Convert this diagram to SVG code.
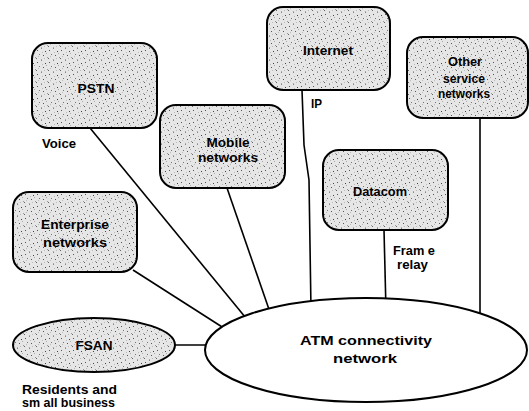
<svg xmlns="http://www.w3.org/2000/svg" width="529" height="411" viewBox="0 0 529 411">
  <defs>
    <!-- speckled grey fill for network clouds -->
    <pattern id="speckle" width="12" height="12" patternUnits="userSpaceOnUse">
      <rect width="12" height="12" fill="#e6e6e6"/>
      <rect x="1" y="2" width="1" height="1" fill="#555"/>
      <rect x="5" y="0" width="1" height="1" fill="#888"/>
      <rect x="9" y="3" width="1" height="1" fill="#444"/>
      <rect x="3" y="6" width="1" height="1" fill="#777"/>
      <rect x="7" y="7" width="1" height="1" fill="#555"/>
      <rect x="11" y="9" width="1" height="1" fill="#999"/>
      <rect x="0" y="10" width="1" height="1" fill="#666"/>
      <rect x="5" y="11" width="1" height="1" fill="#aaa"/>
      <rect x="8" y="10" width="1" height="1" fill="#bbb"/>
      <rect x="2" y="8" width="1" height="1" fill="#bbb"/>
      <rect x="10" y="5" width="1" height="1" fill="#aaa"/>
      <rect x="6" y="4" width="1" height="1" fill="#bbb"/>
    </pattern>
  </defs>
  <style>
    .box { fill: url(#speckle); stroke: #000; stroke-width: 2; }
    .hub { fill: #fff; stroke: #000; stroke-width: 2; }
    .link { fill: none; stroke: #000; stroke-width: 1.6; }
    text { font-family: "Liberation Sans", Arial, sans-serif; font-size: 12px; font-weight: bold; fill: #000; }
  </style>
  <rect width="529" height="411" fill="#fff"/>

  <g id="connectors">
    <line class="link" x1="90" y1="128" x2="250" y2="323"/>
    <line class="link" x1="227" y1="188" x2="272" y2="318"/>
    <line class="link" x1="133" y1="270" x2="230" y2="332"/>
    <line class="link" x1="175" y1="345" x2="215" y2="345"/>
    <polyline class="link" points="302,90 304,145 309,180 311,310"/>
    <line class="link" x1="384" y1="230" x2="386" y2="310"/>
    <line class="link" x1="480" y1="118" x2="480" y2="320"/>
  </g>

  <g id="atm">
    <ellipse class="hub" cx="366" cy="350" rx="161" ry="52"/>
    <text x="366" y="345" text-anchor="middle" textLength="132" lengthAdjust="spacingAndGlyphs">ATM connectivity</text>
    <text x="365" y="363" text-anchor="middle" textLength="64" lengthAdjust="spacingAndGlyphs">network</text>
  </g>

  <g id="pstn">
    <rect class="box" x="32" y="43" width="125" height="85" rx="16"/>
    <text x="96" y="93" text-anchor="middle" textLength="37" lengthAdjust="spacingAndGlyphs">PSTN</text>
    <text x="42" y="148" textLength="34" lengthAdjust="spacingAndGlyphs">Voice</text>
  </g>

  <g id="internet">
    <rect class="box" x="267" y="7" width="123" height="83" rx="16"/>
    <text x="328" y="55" text-anchor="middle" textLength="50" lengthAdjust="spacingAndGlyphs">Internet</text>
    <text x="311" y="108" textLength="11" lengthAdjust="spacingAndGlyphs">IP</text>
  </g>

  <g id="other">
    <rect class="box" x="407" y="37" width="121" height="81" rx="16"/>
    <text x="465" y="66" text-anchor="middle" textLength="34" lengthAdjust="spacingAndGlyphs">Other</text>
    <text x="464" y="83" text-anchor="middle" textLength="42" lengthAdjust="spacingAndGlyphs">service</text>
    <text x="464" y="98" text-anchor="middle" textLength="52" lengthAdjust="spacingAndGlyphs">networks</text>
  </g>

  <g id="mobile">
    <rect class="box" x="160" y="105" width="125" height="83" rx="16"/>
    <text x="228" y="147" text-anchor="middle" textLength="43" lengthAdjust="spacingAndGlyphs">Mobile</text>
    <text x="228" y="162" text-anchor="middle" textLength="60" lengthAdjust="spacingAndGlyphs">networks</text>
  </g>

  <g id="datacom">
    <rect class="box" x="323" y="150" width="125" height="80" rx="16"/>
    <text x="380" y="196" text-anchor="middle" textLength="54" lengthAdjust="spacingAndGlyphs">Datacom</text>
    <text x="393" y="255" textLength="42" lengthAdjust="spacingAndGlyphs">Fram e</text>
    <text x="397" y="269" textLength="31" lengthAdjust="spacingAndGlyphs">relay</text>
  </g>

  <g id="enterprise">
    <rect class="box" x="13" y="192" width="124" height="80" rx="16"/>
    <text x="75" y="229" text-anchor="middle" textLength="68" lengthAdjust="spacingAndGlyphs">Enterprise</text>
    <text x="75" y="247" text-anchor="middle" textLength="64" lengthAdjust="spacingAndGlyphs">networks</text>
  </g>

  <g id="fsan">
    <ellipse class="box" cx="94" cy="345" rx="81" ry="27"/>
    <text x="94" y="350" text-anchor="middle" textLength="37" lengthAdjust="spacingAndGlyphs">FSAN</text>
    <text x="22" y="394" textLength="95" lengthAdjust="spacingAndGlyphs">Residents and</text>
    <text x="22" y="407" textLength="93" lengthAdjust="spacingAndGlyphs">sm all business</text>
  </g>
</svg>
